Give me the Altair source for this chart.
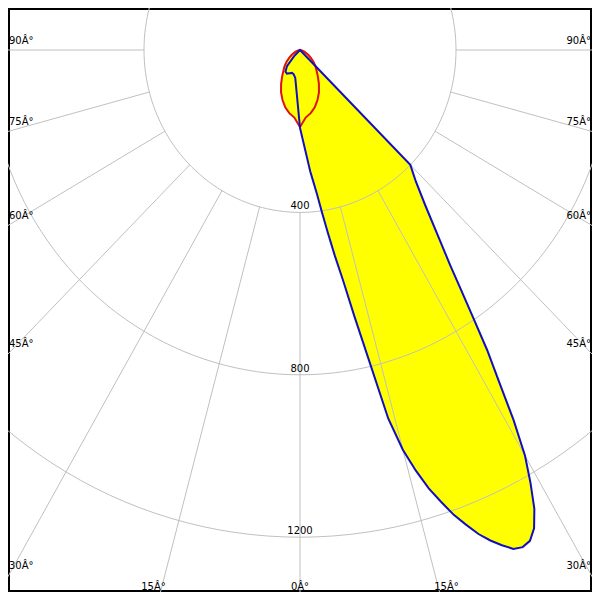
import altair as alt
import numpy as np
import pandas as pd

# ---- data (angle in degrees from nadir, intensity) ----
blue_angle = [-50, -45, -40, -35, -30, -25, -20, -15, -10, -5, 0,
              5, 6, 7, 8, 9, 10, 11, 12, 13, 14, 15, 16, 17, 18, 19, 20,
              21, 22, 23, 24, 25, 26, 27, 28, 29, 30, 31, 32, 33, 34, 35, 36,
              37.5, 40, 42.5, 45, 50]
blue_value = [0, 22, 52, 65, 67, 63, 60, 62, 70, 102, 192,
              300, 326, 358, 403, 455, 515, 577, 670, 780, 936, 1020, 1078, 1129, 1170, 1211, 1244,
              1277, 1303, 1325, 1345, 1351, 1345, 1322, 1280, 1219, 1154, 1063, 962, 881, 792, 717, 655,
              587, 500, 440, 400, 0]

red_angle = [-90, -80, -70, -60, -55, -50, -45, -40, -35, -30, -25, -20, -15, -10, -5, 0,
             5, 10, 15, 20, 25, 30, 35, 40, 45, 50, 55, 60, 70, 80, 90]
red_value = [0, 5, 12, 25, 34, 45, 56, 66, 80, 97, 115, 131, 146, 158, 167, 190,
             167, 158, 146, 131, 115, 97, 80, 66, 56, 45, 34, 25, 12, 5, 0]

ring_values = [400, 800, 1200]
ring_labels = ["400", "800", "1200"]
spoke_angles = list(range(-180, 180, 15))
angle_marks = [-90, -75, -60, -45, -30, -15, 0, 15, 30, 45, 60, 75, 90]
angle_texts = ["90Â°", "75Â°", "60Â°", "45Â°", "30Â°", "15Â°", "0Â°",
               "15Â°", "30Â°", "45Â°", "60Â°", "75Â°", "90Â°"]

# ---- layout constants ----
W, H = 584, 584
SX, SY = 0.39, 0.406          # px per unit, horizontal / vertical
CX, CY = 292, 42              # pole position inside the view
xdom = [-CX / SX, (W - CX) / SX]
ydom = [-CY / SY, (H - CY) / SY]
xs = alt.Scale(domain=xdom, nice=False, zero=False)
ys = alt.Scale(domain=ydom, nice=False, zero=False, reverse=True)

X = lambda f="x": alt.X(f"{f}:Q", scale=xs, axis=None)
Y = lambda f="y": alt.Y(f"{f}:Q", scale=ys, axis=None)

polar_x = "datum.v * sin(datum.a * PI / 180)"
polar_y = "datum.v * cos(datum.a * PI / 180)"

blue_df = pd.DataFrame({"a": blue_angle, "v": blue_value, "i": range(len(blue_angle))})
red_df = pd.DataFrame({"a": red_angle, "v": red_value, "i": range(len(red_angle))})


def curve(df, **mark):
    return alt.Chart(df).transform_calculate(x=polar_x, y=polar_y).mark_line(
        interpolate="linear-closed", clip=True, **mark
    ).encode(x=X(), y=Y(), order="i:Q")


blue_fill = curve(blue_df, fill="#ffff00", strokeWidth=0, strokeOpacity=0)
red_fill = curve(red_df, fill="#ffff00", strokeWidth=0, strokeOpacity=0)
red_line = curve(red_df, stroke="#e01010", strokeWidth=2)
blue_line = curve(blue_df, stroke="#1010c0", strokeWidth=2)

# rings
ring_rows = []
for r in ring_values:
    for k, t in enumerate(np.arange(0, 362, 2)):
        ring_rows.append({"r": r, "a": float(t), "v": r, "i": k})
ring_df = pd.DataFrame(ring_rows)
rings = alt.Chart(ring_df).transform_calculate(x=polar_x, y=polar_y).mark_line(
    stroke="#c0c0c0", strokeWidth=1, clip=True
).encode(x=X(), y=Y(), detail="r:N", order="i:Q")

# spokes from the innermost ring outward
spoke_df = pd.DataFrame({"a": spoke_angles})
spokes = alt.Chart(spoke_df).transform_calculate(
    x=f"{ring_values[0]} * sin(datum.a * PI / 180)",
    y=f"{ring_values[0]} * cos(datum.a * PI / 180)",
    x2="3000 * sin(datum.a * PI / 180)",
    y2="3000 * cos(datum.a * PI / 180)",
).mark_rule(stroke="#c0c0c0", strokeWidth=1, clip=True).encode(
    x=X(), y=Y(), x2="x2:Q", y2="y2:Q"
)

# ring labels
ring_lab_df = pd.DataFrame({"v": ring_values, "t": ring_labels})
ring_text = alt.Chart(ring_lab_df).transform_calculate(x="0", y="datum.v").mark_text(
    font="DejaVu Sans", fontSize=10, color="black", align="center",
    baseline="alphabetic", dy=-3
).encode(x=X(), y=Y(), text="t:N")

# angle labels placed where the spokes meet the frame
edge = (W - CX - 1) / SX
bottom = (H - 2 - CY) / SY
lx, ly, al = [], [], []
for a in angle_marks:
    rad = np.radians(abs(a))
    s = np.sign(a) if a != 0 else 0
    if abs(a) >= 30:
        lx.append(s * edge)
        ly.append(edge * np.cos(rad) / np.sin(rad) - 6 / SY)
        al.append("left" if a < 0 else "right")
    else:
        lx.append(s * (bottom * np.tan(rad) + 7.5 / SX))
        ly.append(bottom)
        al.append("center")
ang_df = pd.DataFrame({"x": lx, "y": ly, "t": angle_texts, "al": al})


def ang_layer(align):
    return alt.Chart(ang_df).transform_filter(f"datum.al == '{align}'").mark_text(
        font="DejaVu Sans", fontSize=10, color="black", align=align,
        baseline="alphabetic"
    ).encode(x=X(), y=Y(), text="t:N")


chart = alt.layer(
    blue_fill, red_fill, rings, spokes, red_line, blue_line, ring_text,
    ang_layer("left"), ang_layer("right"), ang_layer("center"),
).properties(
    width=W, height=H, autosize=alt.AutoSizeParams(type="none"), padding=0,
    background="white",
).configure_view(stroke="black", strokeWidth=4)

chart.save("out.html", embed_options={"renderer": "svg", "actions": False})
